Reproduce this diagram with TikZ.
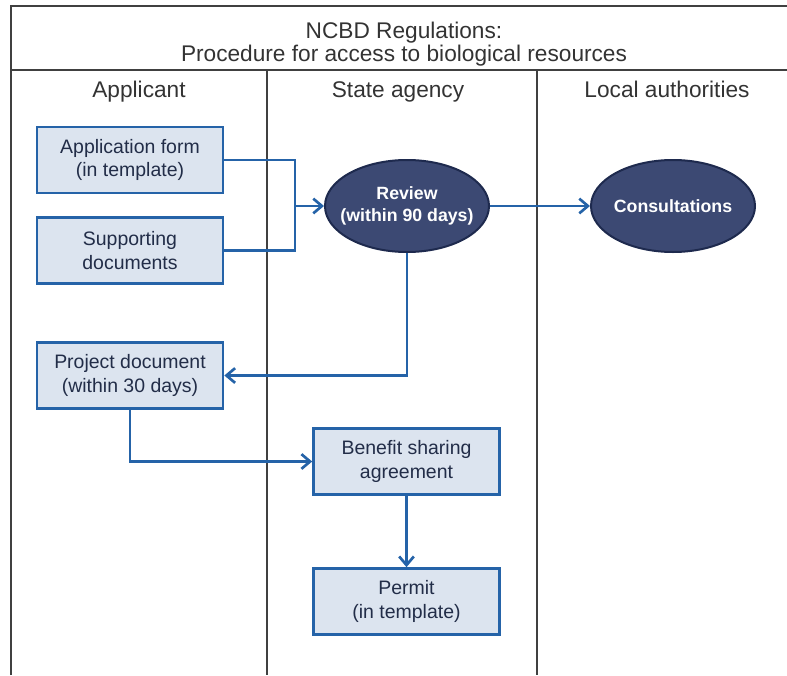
\documentclass[tikz,border=0pt]{standalone}
\usepackage{fontspec}
\setmainfont{Liberation Sans}
\usetikzlibrary{arrows.meta,shapes.geometric}

\definecolor{laneline}{RGB}{64,64,64}
\definecolor{headtext}{RGB}{51,51,51}
\definecolor{boxfill}{RGB}{220,228,239}
\definecolor{boxline}{RGB}{37,99,168}
\definecolor{boxtext}{RGB}{34,45,72}
\definecolor{ovalfill}{RGB}{60,73,115}
\definecolor{ovalline}{RGB}{30,42,78}

\tikzset{every picture/.style={line width=0.75pt}}
\tikzset{
  frame/.style={draw=laneline, line width=1.5pt},
  title/.style={align=center, text=headtext, inner sep=0pt, font=\fontsize{17}{17}\selectfont},
  lanehead/.style={text=headtext, inner sep=0pt, font=\fontsize{17}{20}\selectfont},
  docbox/.style={draw=boxline, fill=boxfill, line width=2pt, minimum width=139.5pt, minimum height=49.5pt, inner sep=0pt, align=center, text=boxtext, font=\fontsize{14.6}{17.5}\selectfont},
  oval/.style={ellipse, draw=ovalline, fill=ovalfill, line width=1.5pt, minimum width=123pt, minimum height=69pt, inner xsep=-12pt, inner ysep=0pt, align=center, text=white, font=\bfseries\fontsize{13.3}{16.5}\selectfont},
  flow/.style={draw=boxline, line width=2pt, -{Straight Barb[length=6.5pt,width=11pt,line width=2pt]}},
  feed/.style={draw=boxline, line width=2pt}
}

\begin{document}
\begin{tikzpicture}[x=0.75pt,y=0.75pt,yscale=-1,xscale=1]
\useasboundingbox (0,0) rectangle (787,675);

%Frame and swimlanes
\draw [frame] (11,675) -- (11,6) -- (787,6) ;
\draw [frame] (11,70) -- (787,70) ;
\draw [frame] (267,70) -- (267,675) ;
\draw [frame] (537,70) -- (537,675) ;

% Text Node
\node [title] (title) at (404,44) {NCBD Regulations:\\Procedure for access to biological resources};
% Text Node
\node [lanehead, anchor=base] (applicant) at (139,97) {Applicant};
% Text Node
\node [lanehead, anchor=base] (agency) at (398,97) {State agency};
% Text Node
\node [lanehead, anchor=base] (local) at (667,97) {Local authorities};

%Boxes
\node [docbox] (appform) at (130,160) {Application form\\(in template)};
\node [docbox] (suppdocs) at (130,250.5) {Supporting\\documents};
\node [docbox] (projdoc) at (130,375.5) {Project document\\(within 30 days)};
\node [docbox] (benefit) at (406.5,461.5) {Benefit sharing\\agreement};
\node [docbox] (permit) at (406.5,601.5) {Permit\\(in template)};

%Ellipses
\node [oval] (review) at (407,206) {Review\\(within 90 days)};
\node [oval] (consult) at (673,206) {Consultations};

%Connectors
\coordinate (merge) at (295,206);
\draw [feed] (appform.east) -| (merge) ;
\draw [feed] (suppdocs.east) -| (merge) ;
\draw [flow] (merge) -- (review.west) ;
\draw [flow] (review.east) -- (consult.west) ;
\draw [flow] (review.south) |- (projdoc.east) ;
\draw [flow] (projdoc.south) |- (benefit.west) ;
\draw [flow] (benefit.south) -- (permit.north) ;

\end{tikzpicture}
\end{document}
